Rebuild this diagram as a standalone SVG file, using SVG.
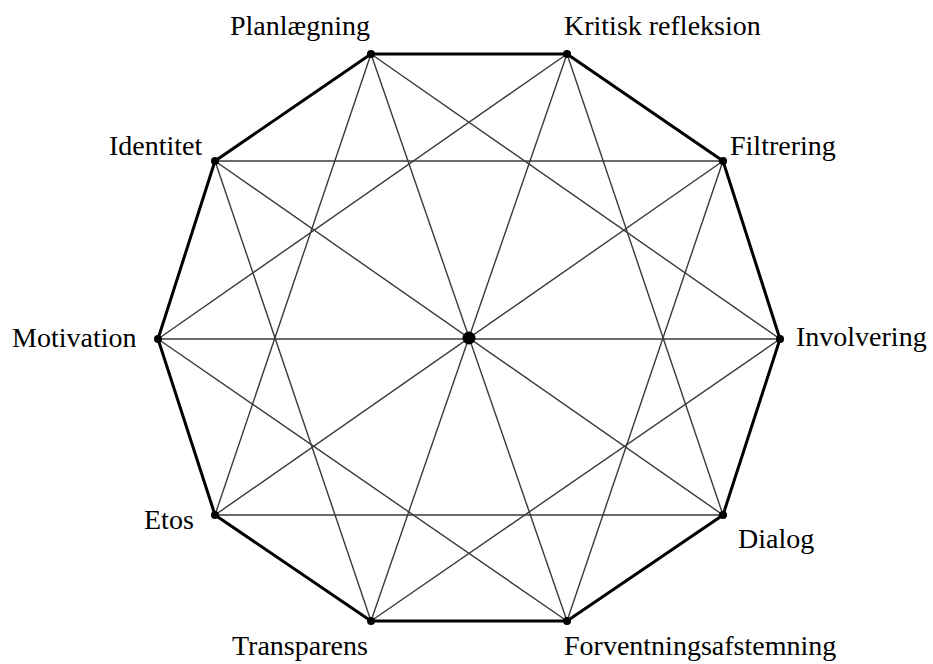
<svg xmlns="http://www.w3.org/2000/svg" width="933" height="664" viewBox="0 0 933 664">
<style>
.edge{stroke:#000;stroke-width:3;stroke-linecap:round;fill:none}
.chord{stroke:#3a3a3a;stroke-width:1.4;fill:none}
.dot{fill:#000}
.lbl{font-family:"Liberation Serif","Times New Roman",serif;font-size:28px;fill:#000}
</style>
<rect width="933" height="664" fill="#fff"/>
<g id="connectors">
<g id="chords">
<line class="chord" x1="371" y1="54" x2="780" y2="339"/>
<line class="chord" x1="371" y1="54" x2="567" y2="621"/>
<line class="chord" x1="371" y1="54" x2="215" y2="515"/>
<line class="chord" x1="567" y1="54" x2="723" y2="515"/>
<line class="chord" x1="567" y1="54" x2="371" y2="621"/>
<line class="chord" x1="567" y1="54" x2="158" y2="339"/>
<line class="chord" x1="723" y1="161" x2="567" y2="621"/>
<line class="chord" x1="723" y1="161" x2="215" y2="515"/>
<line class="chord" x1="723" y1="161" x2="215" y2="161"/>
<line class="chord" x1="780" y1="339" x2="371" y2="621"/>
<line class="chord" x1="780" y1="339" x2="158" y2="339"/>
<line class="chord" x1="723" y1="515" x2="215" y2="515"/>
<line class="chord" x1="723" y1="515" x2="215" y2="161"/>
<line class="chord" x1="567" y1="621" x2="158" y2="339"/>
<line class="chord" x1="371" y1="621" x2="215" y2="161"/>
</g>
<polygon id="outline" class="edge" points="371,54 567,54 723,161 780,339 723,515 567,621 371,621 215,515 158,339 215,161"/>
</g>
<g id="center"><circle class="dot" cx="469" cy="338" r="6.5"/></g>
<g id="planlaegning"><circle class="dot" cx="371" cy="54" r="4"/><text class="lbl" x="230" y="35">Planlægning</text></g>
<g id="kritisk-refleksion"><circle class="dot" cx="567" cy="54" r="4"/><text class="lbl" x="564" y="35">Kritisk refleksion</text></g>
<g id="filtrering"><circle class="dot" cx="723" cy="161" r="4"/><text class="lbl" x="730" y="155">Filtrering</text></g>
<g id="involvering"><circle class="dot" cx="780" cy="339" r="4"/><text class="lbl" x="796" y="346">Involvering</text></g>
<g id="dialog"><circle class="dot" cx="723" cy="515" r="4"/><text class="lbl" x="738" y="548">Dialog</text></g>
<g id="forventningsafstemning"><circle class="dot" cx="567" cy="621" r="4"/><text class="lbl" x="564" y="655">Forventningsafstemning</text></g>
<g id="transparens"><circle class="dot" cx="371" cy="621" r="4"/><text class="lbl" x="232" y="655">Transparens</text></g>
<g id="etos"><circle class="dot" cx="215" cy="515" r="4"/><text class="lbl" x="144" y="529">Etos</text></g>
<g id="motivation"><circle class="dot" cx="158" cy="339" r="4"/><text class="lbl" x="12" y="347">Motivation</text></g>
<g id="identitet"><circle class="dot" cx="215" cy="161" r="4"/><text class="lbl" x="109" y="155">Identitet</text></g>
</svg>
